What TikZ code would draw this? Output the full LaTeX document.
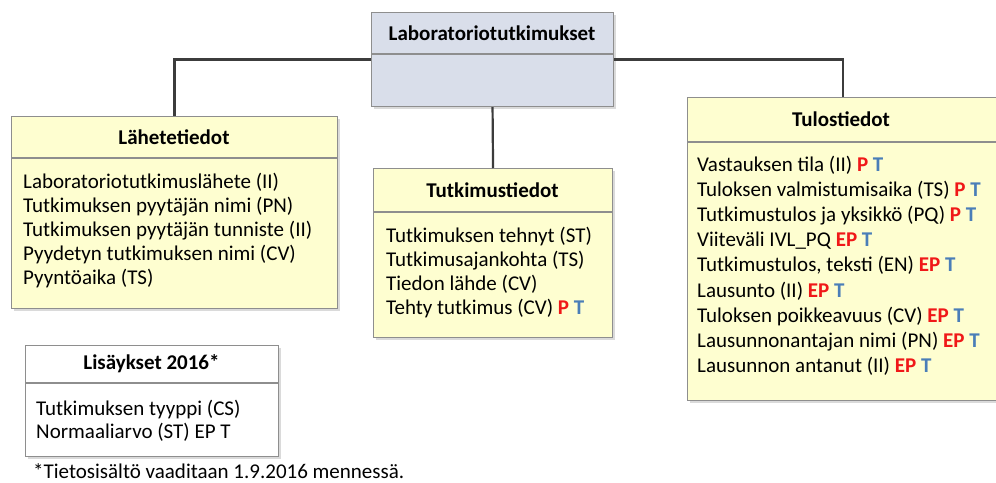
\documentclass[tikz,border=0pt]{standalone}
\usepackage{fontspec}
\setmainfont{Carlito}
\definecolor{boxline}{HTML}{8E8E8E}
\definecolor{linkline}{HTML}{3C3C3C}
\definecolor{paleyellow}{HTML}{FEFED0}
\definecolor{paleblue}{HTML}{D9DEEA}
\definecolor{shadowgray}{HTML}{DADADA}
\definecolor{tagred}{HTML}{F01818}
\definecolor{tagblue}{HTML}{4A7EB8}
\newcommand{\tP}{\textcolor{tagred}{\textbf{P}}}
\newcommand{\tEP}{\textcolor{tagred}{\textbf{EP}}}
\newcommand{\tT}{\textcolor{tagblue}{\textbf{T}}}
\tikzset{
  classbox/.style={draw=boxline, line width=1.1pt, inner sep=0pt, anchor=north west},
  boxshadow/.style={fill=shadowgray, draw=none},
  divider/.style={draw=boxline, line width=1.1pt},
  title/.style={font=\fontsize{21}{24}\selectfont\bfseries, inner sep=0pt},
  item/.style={font=\fontsize{21}{24}\selectfont, inner sep=0pt, anchor=base west},
  link/.style={draw=linkline, line width=2.2pt},
}
\begin{document}
\begin{tikzpicture}[x=1pt, y=-1pt]
\useasboundingbox (0,0) rectangle (996,482);
\fill[white] (0,0) rectangle (996,482);

% drop shadows
\fill[boxshadow] (374,15) rectangle (616,109);
\fill[boxshadow] (14,119) rectangle (340,311);
\fill[boxshadow] (376,171) rectangle (615,340);
\fill[boxshadow] (690,100) rectangle (1001,403);
\fill[boxshadow] (28,348) rectangle (281,459);

% boxes
\node[classbox, fill=paleblue, minimum width=242pt, minimum height=94pt] (lab) at (371,12) {};
\node[classbox, fill=paleyellow, minimum width=326pt, minimum height=192pt] (lah) at (11,116) {};
\node[classbox, fill=paleyellow, minimum width=239pt, minimum height=169pt] (tut) at (373,168) {};
\node[classbox, fill=paleyellow, minimum width=311pt, minimum height=303pt] (tul) at (687,97) {};
\node[classbox, fill=white, minimum width=253pt, minimum height=111pt] (lis) at (25,345) {};

% header dividers
\draw[divider] (lab.west |- 0,54) -- (lab.east |- 0,54);
\draw[divider] (lah.west |- 0,158) -- (lah.east |- 0,158);
\draw[divider] (tut.west |- 0,212) -- (tut.east |- 0,212);
\draw[divider] (tul.west |- 0,142) -- (tul.east |- 0,142);
\draw[divider] (lis.west |- 0,383) -- (lis.east |- 0,383);

% connectors
\draw[link] (lab.west) -- (lab.west -| lah.north) -- (lah.north);
\draw[link] (lab.east) -- (lab.east -| tul.north) -- (tul.north);
\draw[link] (lab.south) -- (tut.north);

% titles
\node[title] (labt) at (492,33) {Laboratoriotutkimukset};
\node[title] (laht) at (174,137) {Lähetetiedot};
\node[title] (tutt) at (492.5,190) {Tutkimustiedot};
\node[title] (tult) at (841,119.5) {Tulostiedot};
\node[title] (list) at (151.5,364) {Lisäykset 2016*};

% Lähetetiedot
\node[item] (lah1) at (23,188.5) {Laboratoriotutkimuslähete (II)};
\node[item] (lah2) at (23,212.5) {Tutkimuksen pyytäjän nimi (PN)};
\node[item] (lah3) at (23,236.5) {Tutkimuksen pyytäjän tunniste (II)};
\node[item] (lah4) at (23,260.5) {Pyydetyn tutkimuksen nimi (CV)};
\node[item] (lah5) at (23,284.5) {Pyyntöaika (TS)};

% Tutkimustiedot
\node[item] (tut1) at (386,242.5) {Tutkimuksen tehnyt (ST)};
\node[item] (tut2) at (386,266.5) {Tutkimusajankohta (TS)};
\node[item] (tut3) at (386,290.5) {Tiedon lähde (CV)};
\node[item] (tut4) at (386,314.5) {Tehty tutkimus (CV) \tP{} \tT};

% Tulostiedot
\node[item] (tul1) at (697,171) {Vastauksen tila (II) \tP{} \tT};
\node[item] (tul2) at (697,196.2) {Tuloksen valmistumisaika (TS) \tP{} \tT};
\node[item] (tul3) at (697,221.4) {Tutkimustulos ja yksikkö (PQ) \tP{} \tT};
\node[item] (tul4) at (697,246.6) {Viiteväli IVL\_PQ \tEP{} \tT};
\node[item] (tul5) at (697,271.8) {Tutkimustulos, teksti (EN) \tEP{} \tT};
\node[item] (tul6) at (697,297.0) {Lausunto (II) \tEP{} \tT};
\node[item] (tul7) at (697,322.2) {Tuloksen poikkeavuus (CV) \tEP{} \tT};
\node[item] (tul8) at (697,347.4) {Lausunnonantajan nimi (PN) \tEP{} \tT};
\node[item] (tul9) at (697,372.6) {Lausunnon antanut (II) \tEP{} \tT};

% Lisäykset 2016
\node[item] (lis1) at (36,415.5) {Tutkimuksen tyyppi (CS)};
\node[item] (lis2) at (36,438.5) {Normaaliarvo (ST) EP T};

% footnote
\node[item] (foot) at (33,478.5) {*Tietosisältö vaaditaan 1.9.2016 mennessä.};
\end{tikzpicture}
\end{document}
